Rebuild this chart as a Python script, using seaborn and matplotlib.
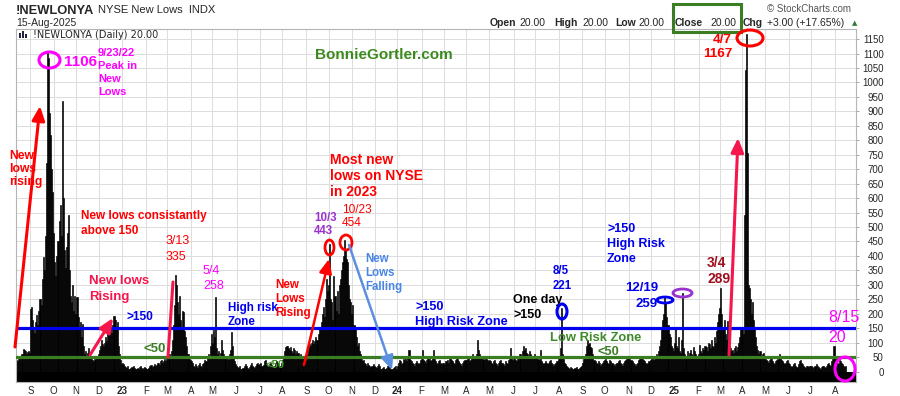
import numpy as np
import pandas as pd
import matplotlib
matplotlib.use("Agg")
import matplotlib.pyplot as plt
import seaborn as sns
from matplotlib.patches import Ellipse, FancyArrowPatch, Rectangle

# ---------------- data: NYSE new lows, one value per trading day, grouped by month ----------------
lows_2022 = [
    [40, 35, 45, 50, 42, 60, 78, 75, 70, 62, 68, 72, 65],                                   # Aug (from 15th)
    [215, 225, 180, 150, 135, 170, 195, 160, 210, 250, 230, 320, 395, 350, 470, 720, 1106,
     1084, 894, 818, 700, 620],                                                               # Sep
    [480, 380, 330, 400, 450, 520, 576, 470, 935, 600, 420, 360, 430, 480, 541, 350, 260,
     240, 300, 210, 260],                                                                     # Oct
    [200, 258, 190, 150, 170, 120, 165, 90, 60, 70, 55, 65, 80, 60, 50, 45, 40, 38, 42, 55,
     48, 60],                                                                                 # Nov
    [75, 90, 110, 95, 88, 100, 120, 105, 140, 125, 130, 150, 135, 160, 193, 180, 150, 170,
     90, 60, 40, 25],                                                                         # Dec
]
lows_2023 = [
    [30, 25, 20, 15, 12, 18, 10, 8, 12, 15, 20, 14, 10, 8, 12, 10, 15, 18, 12, 10, 14, 16],
    [12, 8, 10, 14, 18, 22, 15, 20, 25, 18, 22, 30, 28, 24, 35, 40, 30, 38, 45, 35],
    [45, 55, 60, 50, 70, 110, 160, 230, 335, 300, 240, 200, 260, 180, 150, 210, 205, 140,
     120, 90, 60, 45, 40],
    [35, 28, 20, 15, 25, 18, 12, 22, 30, 20, 15, 25, 30, 40, 35, 50, 60, 45, 90, 130],
    [100, 145, 120, 258, 80, 60, 70, 55, 65, 110, 75, 60, 50, 45, 55, 40, 60, 75, 137, 90,
     50, 35, 25],
    [20, 15, 12, 18, 10, 8, 14, 20, 25, 18, 12, 10, 15, 22, 28, 20, 15, 12, 18, 25, 30, 22],
    [25, 30, 18, 22, 35, 40, 28, 20, 15, 25, 30, 22, 18, 15, 20, 28, 35, 30, 25, 20, 30],
    [40, 55, 70, 85, 90, 88, 80, 75, 85, 70, 65, 80, 75, 60, 70, 65, 55, 60, 50, 45, 55, 40,
     35],
    [45, 60, 80, 95, 88, 100, 110, 95, 105, 120, 110, 130, 150, 145, 170, 200, 225, 190, 250,
     320, 280],
    [300, 443, 250, 240, 180, 330, 260, 210, 280, 200, 300, 320, 350, 380, 400, 454, 420,
     390, 380, 300, 250, 240],
    [200, 230, 160, 150, 120, 90, 100, 70, 60, 45, 35, 40, 30, 25, 20, 28, 22, 18, 15, 20,
     25, 18],
    [15, 12, 20, 25, 18, 10, 8, 12, 15, 10, 8, 12, 20, 18, 15, 10, 8, 12, 15, 20, 10],
]
lows_2024 = [
    [20, 30, 40, 35, 25, 30, 45, 40, 50, 35, 55, 75, 40, 35, 30, 25, 20, 30, 35, 28, 25, 30,
     40],
    [45, 75, 40, 35, 30, 40, 55, 45, 35, 40, 50, 75, 45, 35, 30, 25, 35, 40, 30, 25, 30],
    [30, 25, 35, 40, 30, 45, 50, 40, 35, 30, 25, 40, 55, 45, 35, 30, 25, 20, 30, 35, 40],
    [40, 45, 50, 35, 40, 55, 60, 50, 45, 55, 60, 110, 75, 60, 55, 50, 45, 40, 50, 45, 40, 35],
    [40, 35, 30, 25, 35, 40, 30, 25, 20, 30, 35, 40, 30, 25, 20, 35, 30, 25, 40, 45, 83, 50,
     40],
    [45, 50, 40, 35, 45, 55, 60, 50, 70, 87, 75, 80, 65, 60, 55, 70, 60, 50, 45, 55],
    [60, 55, 50, 45, 40, 76, 35, 30, 25, 30, 35, 28, 25, 30, 35, 40, 30, 25, 20, 25, 30, 35,
     45],
    [50, 80, 221, 60, 45, 30, 25, 20, 15, 12, 10, 15, 12, 10, 8, 12, 15, 10, 8, 12, 15, 20],
    [30, 45, 50, 60, 90, 110, 95, 100, 85, 80, 60, 40, 35, 30, 25, 35, 30, 20, 25, 30, 35],
    [40, 45, 35, 30, 25, 40, 35, 30, 25, 20, 25, 30, 28, 35, 40, 30, 25, 20, 30, 35, 40, 45,
     50],
    [50, 45, 40, 35, 30, 25, 20, 25, 30, 40, 45, 55, 50, 45, 40, 35, 30, 25, 30, 35, 40],
    [45, 50, 40, 45, 55, 60, 50, 70, 90, 110, 150, 180, 200, 259, 240, 190, 160, 130, 120,
     90, 80, 70],
]
lows_2025 = [
    [100, 155, 90, 80, 120, 70, 65, 110, 272, 80, 60, 55, 70, 50, 65, 75, 60, 55, 85, 70, 60,
     50, 55],
    [60, 93, 70, 65, 80, 75, 90, 85, 70, 100, 95, 80, 110, 90, 85, 120, 100, 140, 170, 200],
    [220, 289, 200, 150, 180, 130, 110, 175, 120, 90, 80, 70, 75, 65, 80, 90, 70, 85, 100,
     120, 155],
    [150, 130, 541, 1043, 1167, 756, 300, 290, 250, 200, 240, 180, 150, 120, 90, 75, 60, 70,
     55, 60, 65, 50],
    [45, 40, 35, 30, 40, 50, 45, 35, 30, 25, 35, 40, 45, 60, 55, 40, 35, 30, 25, 30, 35, 40],
    [30, 25, 20, 15, 20, 25, 30, 20, 15, 25, 35, 40, 30, 25, 20, 15, 12, 20, 18, 15, 20],
    [20, 18, 15, 12, 20, 25, 18, 15, 12, 10, 15, 20, 18, 15, 12, 20, 25, 30, 22, 20, 35, 45,
     90],
    [50, 45, 30, 25, 40, 35, 30, 25, 20, 17, 20],                                             # Aug (to 15th)
]
month_periods = pd.period_range("2022-08", "2025-08", freq="M")
y_ticks = list(range(0, 1151, 50))
risk_high = 150
risk_low = 50

# ---------------- assemble ----------------
all_months = lows_2022 + lows_2023 + lows_2024 + lows_2025
vals, month_start, month_lab, month_bold = [], [], [], []
for per, mv in zip(month_periods, all_months):
    month_start.append(len(vals))
    if per.month == 1:
        month_lab.append(str(per.year)[2:]); month_bold.append(True)
    else:
        month_lab.append(per.strftime("%b")[0]); month_bold.append(False)
    vals.extend(mv)
df = pd.DataFrame({"pos": np.arange(len(vals)), "lows": vals})

W, H = 900, 396
fig = plt.figure(figsize=(W / 100, H / 100), dpi=100)
sns.set_style("white")
plt.rcParams["font.family"] = ["Liberation Sans", "DejaVu Sans"]
ax = fig.add_axes([16 / W, 14 / H, 840 / W, 353 / H])

sns.barplot(data=df, x="pos", y="lows", native_scale=True, color="black", width=1.0,
            linewidth=0.45, edgecolor="black", errorbar=None, saturation=1, ax=ax, zorder=2)
ax.axhspan(-36, 0, color="black", lw=0, zorder=2)
ax.set_xlim(-0.7, 793.8)
ax.set_ylim(-36, 1185)
ax.set_xlabel(""); ax.set_ylabel("")

# grid
ax.set_yticks(y_ticks)
ax.set_xticks(month_start[1:])
ax.grid(True, color="#dcdcdc", lw=0.7, zorder=0)
ax.set_axisbelow(True)
ax.set_xticklabels(month_lab[1:], fontsize=7)
for t, b in zip(ax.get_xticklabels(), month_bold[1:]):
    if b:
        t.set_fontweight("bold")
ax.tick_params(axis="x", length=0, pad=3)
ax.yaxis.tick_right()
ax.tick_params(axis="y", length=2.5, width=0.6, color="#999999", pad=17.5, labelsize=7)
for t in ax.get_yticklabels():
    t.set_ha("right")
for s in ax.spines.values():
    s.set_color("#b5b5b5"); s.set_linewidth(0.8)

ax.axhline(risk_high, color="#0000ee", lw=2.3, zorder=4)
ax.axhline(risk_low, color="#3a7d22", lw=2.3, zorder=4)


# ---------------- annotations (positions in figure pixels, top-left origin) ----------------
def F(x, y):
    return (x / W, 1 - y / H)


def lab(x, y, s, color, size, weight="bold", ha="left", dy=14, family=None):
    for i, line in enumerate(s.split("\n")):
        kw = {}
        if family:
            kw["family"] = family
        fig.text(*F(x, y + i * dy), line, color=color, fontsize=size, fontweight=weight,
                 ha=ha, va="center", **kw)


def ell(cx, cy, w, h, color, lw=2.0):
    fig.add_artist(Ellipse(F(cx, cy), w / W, h / H, transform=fig.transFigure, fill=False,
                           ec=color, lw=lw, zorder=10))


def arrow(x0, y0, x1, y1, color, head=True, lw=2.0):
    style = "-|>,head_length=0.85,head_width=0.38" if head else "-"
    fig.add_artist(FancyArrowPatch(F(x0, y0), F(x1, y1), transform=fig.transFigure,
                                   arrowstyle=style, mutation_scale=10, color=color, lw=lw,
                                   shrinkA=0, shrinkB=0, zorder=10))


RED, CRIM, MAG, PUR, BLUE, GRN = "#ff0000", "#f5164c", "#ff00ff", "#9933cc", "#0000ee", "#3a7d22"

# header
fig.text(*F(16, 11), "!NEWLONYA", fontsize=9.3, fontweight="bold", va="center")
fig.text(*F(98, 10), "NYSE New Lows  INDX", fontsize=8, va="center")
fig.text(*F(16, 23), "15-Aug-2025", fontsize=7.5, va="center")
fig.text(*F(767, 9), "\u00a9 StockCharts.com", fontsize=7, color="#555555", va="center")
hdr = [(490, "Open", True), (519, "20.00", False), (554, "High", True), (582, "20.00", False),
       (615, "Low", True), (638, "20.00", False), (675, "Close", True), (710, "20.00", False),
       (743, "Chg", True), (767, "+3.00 (+17.65%)", False)]
for x, s, b in hdr:
    fig.text(*F(x, 23), s, fontsize=7.5, fontweight="bold" if b else "normal", va="center")
fig.text(*F(852, 23), "\u25b2", fontsize=5, color="#2e7d32", va="center", family="DejaVu Sans")
fig.add_artist(Rectangle(F(673, 32), 68 / W, 28 / H, transform=fig.transFigure, fill=False,
                         ec=GRN, lw=2.2))
fig.text(*F(33, 35), "!NEWLONYA (Daily) 20.00", fontsize=7, va="center",
         family="DejaVu Sans")
for bx, bh in [(19, 5), (22, 7), (25, 4)]:
    fig.add_artist(Rectangle(F(bx, 38), 2 / W, bh / H, transform=fig.transFigure,
                             color="#222244", lw=0))

fig.text(*F(384, 55), "BonnieGortler.com", fontsize=11, fontweight="bold", color="#3c8a1f",
         ha="center", va="center")

# 2022
ell(49.5, 60, 21, 16, MAG, 2.2)
lab(64, 62, "1106", MAG, 11)
lab(98, 53, "9/23/22\nPeak in\nNew\nLows", MAG, 8, dy=13)
lab(9, 156, "New\nlows\nrising", RED, 8.7, dy=13)
arrow(15, 347, 40, 106, RED, lw=2.2)
lab(81, 216, "New lows consistantly\nabove 150", RED, 8.5, dy=15)
lab(89, 281, "New lows\nRising", CRIM, 9.5, dy=16)
arrow(90, 355, 113, 318, CRIM, lw=2.2)
lab(126, 317, ">150", BLUE, 8.6)
lab(144, 349, "<50", GRN, 9.5)

# 2023
lab(166, 241, "3/13\n335", RED, 9, weight="normal", dy=16)
arrow(168, 357, 173, 282, CRIM, head=False, lw=2.2)
lab(203, 271, "5/4\n258", MAG, 9, weight="normal", dy=15)
lab(228, 308, "High risk\nZone", BLUE, 8.4, dy=14)
lab(266, 365, "<50", "#3f9a2a", 8)
lab(275, 285, "New\nLows\nRising", RED, 8.4, dy=14)
arrow(304, 365, 329, 259, RED, lw=1.8)
lab(314, 218, "10/3\n443", PUR, 8.3, dy=13)
ell(329.5, 247.5, 9, 15, RED, 2.0)
lab(342, 210, "10/23\n454", RED, 8.6, weight="normal", dy=13)
ell(346, 242.5, 12, 15, RED, 2.0)
lab(330, 160, "Most new\nlows on NYSE\nin 2023", RED, 10, dy=16)
lab(365, 259, "New\nLows\nFalling", "#4a86e8", 8.3, dy=14)
arrow(349, 245, 392, 370, "#5b8fe0", lw=1.8)

# 2024
lab(415, 307, ">150\nHigh Risk Zone", BLUE, 9.2, dy=15)
lab(513, 300, "One day\n>150", "black", 9, dy=15)
lab(553, 271, "8/5\n221", BLUE, 8.3, dy=15)
ell(562, 311.5, 10, 15, BLUE, 2.2)
lab(550, 338, "Low Risk Zone", "#3f8a2a", 9.4)
lab(597, 352, "<50", GRN, 9.3)
lab(607, 229, ">150\nHigh Risk\nZone", BLUE, 9, dy=15)
lab(658, 288, "12/19\n259", BLUE, 9.5, ha="right", dy=16)
ell(665, 300, 16, 6, BLUE, 2.0)
ell(682.5, 293, 19, 8, PUR, 2.0)

# 2025
lab(707, 263, "3/4\n289", "#a01020", 10, dy=16)
arrow(729, 355, 738, 138, CRIM, lw=2.2)
lab(732, 40, "4/7\n1167", RED, 9.7, ha="right", dy=14)
ell(750, 38, 26, 16, RED, 2.2)
lab(828, 317, "8/15\n20", MAG, 11.5, weight="normal", dy=21)
ell(845, 369, 20, 24, MAG, 2.2)

fig.savefig("out.png", dpi=100)
